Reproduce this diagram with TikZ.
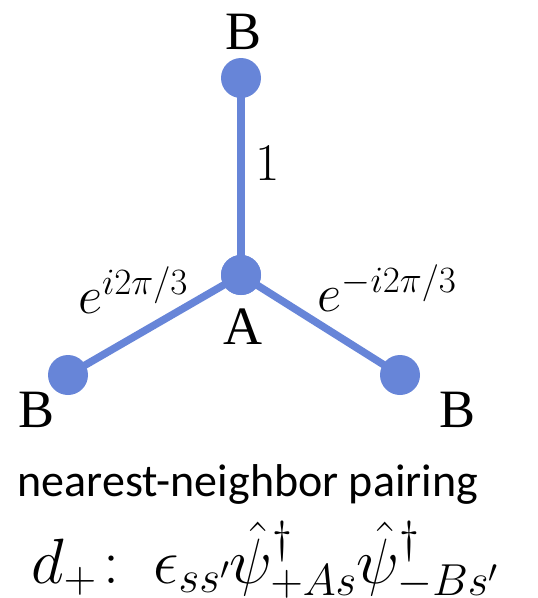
\RequirePackage{fix-cm}
\documentclass[tikz,border=0pt]{standalone}
\usepackage{fontspec}
\usepackage{amsmath}
\setmainfont{Liberation Serif}
\newfontfamily\captionfont{Carlito}
\usetikzlibrary{positioning}
\definecolor{bondblue}{RGB}{103,133,216}

\begin{document}
\begin{tikzpicture}[x=1pt, y=-1pt,
    site/.style={circle, fill=bondblue, inner sep=0pt, minimum size=40pt},
    bond/.style={draw=bondblue, line width=7.5pt},
    sitelabel/.style={font=\fontsize{54}{60}\selectfont, inner sep=0pt},
    phase/.style={font=\fontsize{53}{60}\selectfont, inner sep=0pt}]
        \useasboundingbox (0,0) rectangle (538,598);

        % Gitter: A in der Mitte, drei B-Nachbarn
        \node[site] (A) at (241,275) {};
        \node[site] (Bt) at (241,78) {};
        \node[site] (Bl) at (68,375) {};
        \node[site] (Br) at (400,375) {};
        \draw[bond] (A.center) -- (Bt.center);
        \draw[bond] (A.center) -- (Bl.center);
        \draw[bond] (A.center) -- (Br.center);
        \node[site] at (A) {};

        % Beschriftungen
        \node[sitelabel] (lBt) at (244,32) {B};
        \node[sitelabel] (lA) at (243,327) {A};
        \node[sitelabel] (lBl) at (37,410) {B};
        \node[sitelabel] (lBr) at (458,410) {B};
        \node[phase] (p1) at (268,163) {$1$};
        \node[phase] (pl) at (133,290) {$e^{i2\pi/3}$};
        \node[phase] (pr) at (387,288) {$e^{-i2\pi/3}$};

        % Paarung
        \node[font=\captionfont\fontsize{46}{50}\selectfont, inner sep=0pt] (cap) at (248,484) {nearest-neighbor pairing};
        \node[font=\fontsize{64}{66}\selectfont, inner sep=0pt, anchor=base west] (dplus) at (31,583)
            {$d_+\!:\ \epsilon_{ss'}\hat{\psi}^\dagger_{+As}\hat{\psi}^\dagger_{-Bs'}$};
    \end{tikzpicture}
\end{document}
